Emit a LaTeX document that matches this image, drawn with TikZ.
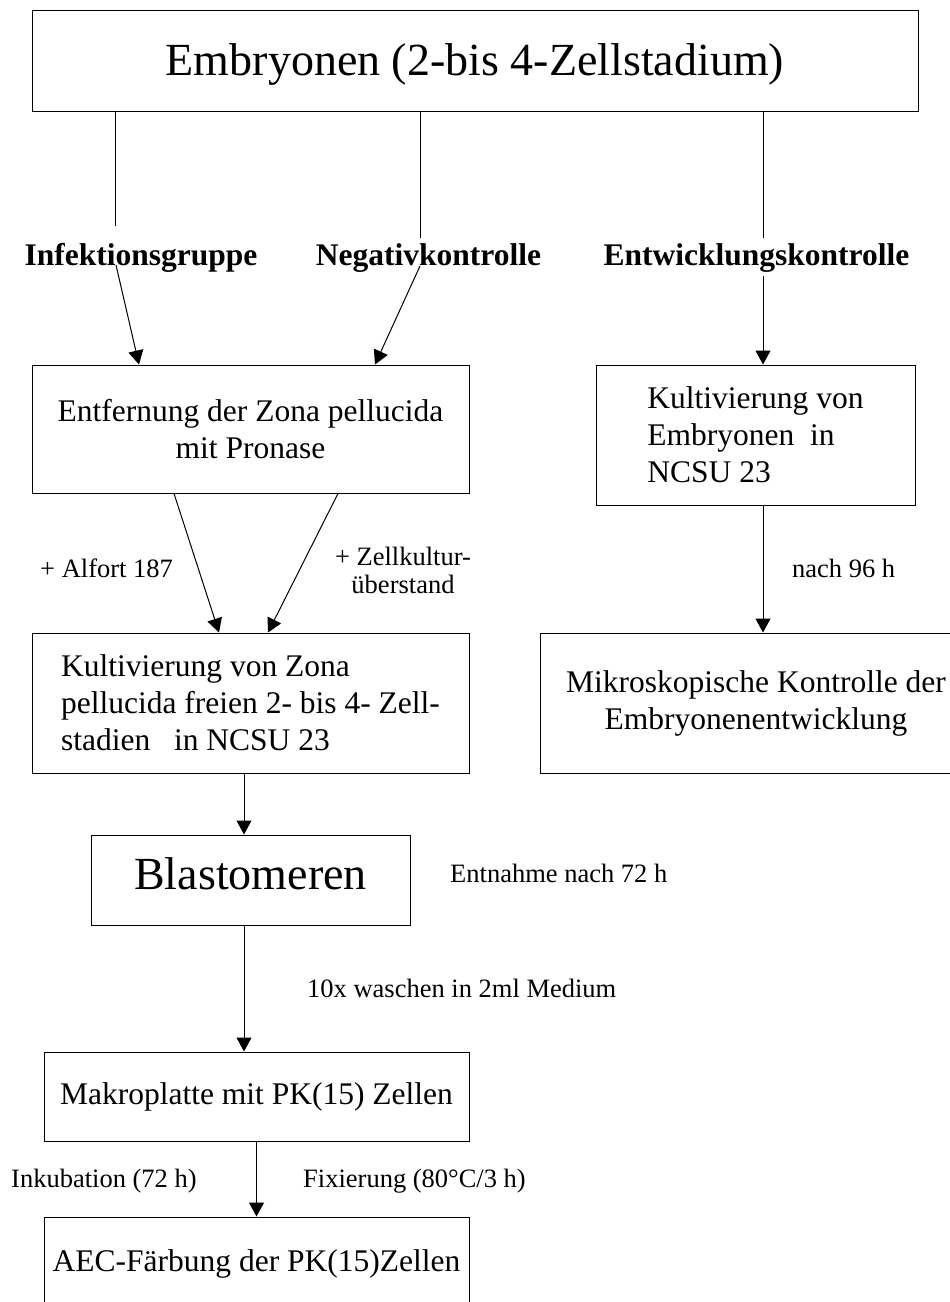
\documentclass[tikz,border=0pt]{standalone}
\usepackage{fontspec}
\setmainfont{Liberation Serif}
\usetikzlibrary{arrows.meta}
\begin{document}
\begin{tikzpicture}[x=1pt,y=-1pt,
 box/.style={draw, line width=1pt, inner sep=0pt, font=\fontsize{31.5}{37}\selectfont},
 grp/.style={inner sep=0pt, anchor=base, font=\fontsize{31.5}{37}\selectfont\bfseries},
 lbl/.style={inner sep=0pt, anchor=base west, font=\fontsize{26.5}{28}\selectfont},
 conn/.style={line width=1pt},
 arr/.style={line width=1pt, -{Triangle[length=14pt,width=15pt]}}]
\clip (0,0) rectangle (950,1302);
% boxes
\node[box, minimum width=886pt, minimum height=101pt, font=\fontsize{46}{50}\selectfont, text height=41pt, text depth=11pt] (title) at (475,60.5) {Embryonen (2-bis 4-Zellstadium)};
\node[box, minimum width=437pt, minimum height=128pt, align=center] (entf) at (250.5,429) {Entfernung der Zona pellucida\\mit Pronase};
\node[box, minimum width=319pt, minimum height=140pt, align=left] (kultE) at (755.5,435) {Kultivierung von\\Embryonen\ \ in\\NCSU 23};
\node[box, minimum width=437pt, minimum height=140pt, align=left] (kultZ) at (250.5,703) {Kultivierung von Zona\\pellucida freien 2- bis 4- Zell-\\stadien\ \ \ in NCSU 23};
\node[box, minimum width=432pt, minimum height=140pt, align=center] (mikro) at (756,703) {Mikroskopische Kontrolle der\\Embryonenentwicklung};
\node[box, minimum width=319pt, minimum height=90pt, font=\fontsize{46}{50}\selectfont, text height=31pt, text depth=13pt] (blast) at (250.5,880) {Blastomeren};
\node[box, minimum width=425pt, minimum height=89pt] (makro) at (256.5,1096.5) {Makroplatte mit PK(15) Zellen};
\node[box, minimum width=425pt, minimum height=93pt, text height=22pt, text depth=7pt] (aec) at (256.5,1263.5) {AEC-Färbung der PK(15)Zellen};
% group labels
\node[grp] (grp1) at (141,265) {Infektionsgruppe};
\node[grp] (grp2) at (428.5,265) {Negativkontrolle};
\node[grp] (grp3) at (756.5,265) {Entwicklungskontrolle};
% edge labels
\node[lbl] (lalf) at (40,577) {+ Alfort 187};
\node[inner sep=0pt, align=center, font=\fontsize{26.5}{28}\selectfont] (lzell) at (403,570) {+ Zellkultur-\\überstand};
\node[lbl] (l96) at (792,577) {nach 96 h};
\node[lbl] (l72) at (450,882) {Entnahme nach 72 h};
\node[lbl] (lwash) at (307,997) {10x waschen in 2ml Medium};
\node[lbl] (linc) at (11,1187) {Inkubation (72 h)};
\node[lbl] (lfix) at (303,1187) {Fixierung (80°C/3 h)};
% coordinates
\coordinate (g1) at (115,226);
\coordinate (g2) at (420,238);
\coordinate (g3) at (763,238);
\coordinate (s1) at (116,265);
\coordinate (s2) at (420,266);
\coordinate (s3) at (763,276);
\coordinate (t1) at (139,0);
\coordinate (t2) at (375,0);
\coordinate (a1) at (174,0);
\coordinate (b1) at (219,0);
\coordinate (a2) at (338,0);
\coordinate (b2) at (268,0);
\coordinate (m1) at (244,0);
% connectors
\draw[conn] (title.south -| g1) -- (g1);
\draw[conn] (title.south -| g2) -- (g2);
\draw[conn] (title.south -| g3) -- (g3);
\draw[arr] (s1) -- (entf.north -| t1);
\draw[arr] (s2) -- (entf.north -| t2);
\draw[arr] (s3) -- (kultE.north -| s3);
\draw[arr] (entf.south -| a1) -- (kultZ.north -| b1);
\draw[arr] (entf.south -| a2) -- (kultZ.north -| b2);
\draw[arr] (kultE.south -| s3) -- (mikro.north -| s3);
\draw[arr] (kultZ.south -| m1) -- (blast.north -| m1);
\draw[arr] (blast.south -| m1) -- (makro.north -| m1);
\draw[arr] (makro.south) -- (aec.north);
\end{tikzpicture}
\end{document}
